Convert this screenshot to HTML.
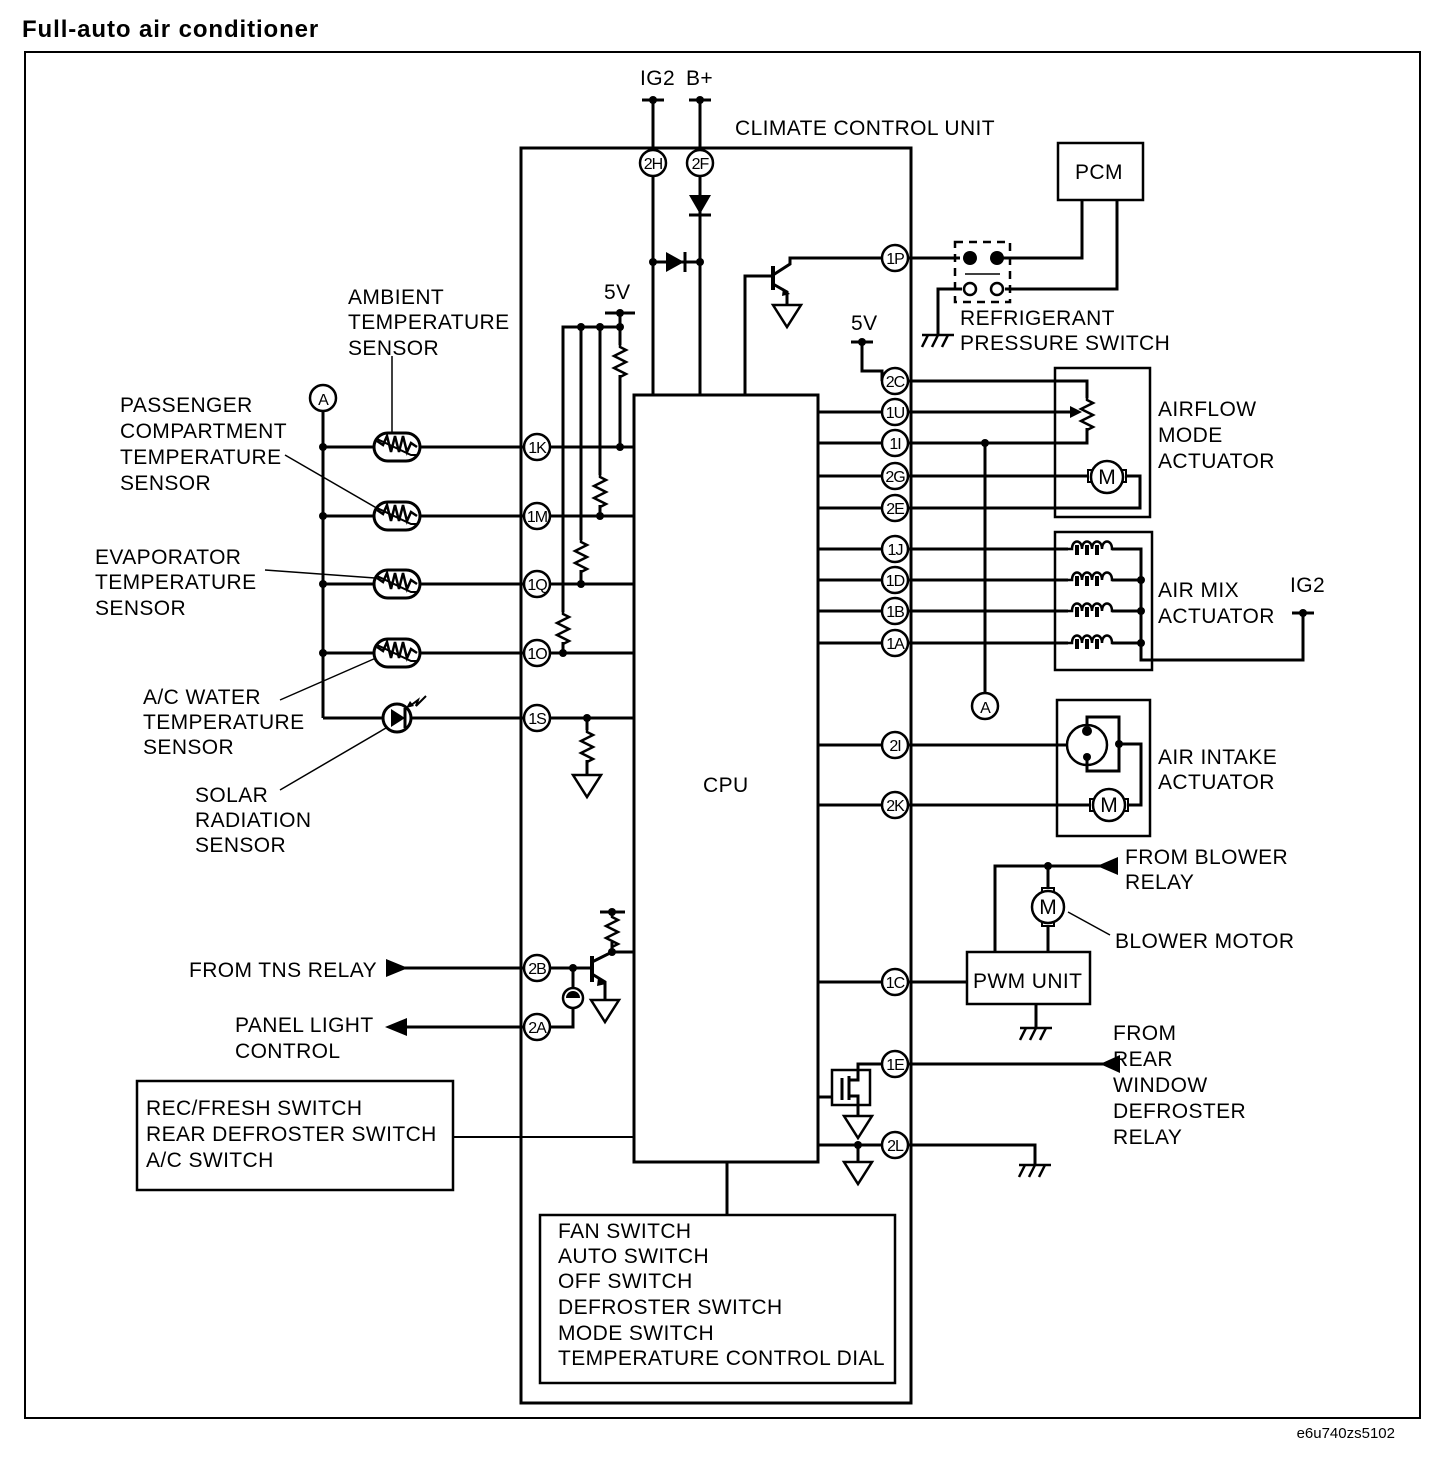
<!DOCTYPE html>
<html><head><meta charset="utf-8"><style>
html,body{margin:0;padding:0;background:#fff;}
svg{display:block;}
text{font-family:"Liberation Sans",Arial,sans-serif;fill:#000;}
.l{font-size:21px;letter-spacing:0.4px;}
.p{font-size:16px;text-anchor:middle;letter-spacing:-1px;}
</style></head><body>
<svg width="1440" height="1462" viewBox="0 0 1440 1462" xmlns="http://www.w3.org/2000/svg">
<defs>
<g id="pin"><circle r="13" fill="#fff" stroke="#000" stroke-width="2.5"/></g>
<g id="th"><rect x="-23" y="-14" width="46" height="28" rx="14" fill="#fff" stroke="#000" stroke-width="3"/><path d="M-20,-6 l6,4 4,-9 4,16 4,-16 4,16 4,-16 4,16 4,-9 6,4" fill="none" stroke="#000" stroke-width="2.5"/><path d="M-20,-8 L14,8 l6,0" fill="none" stroke="#000" stroke-width="2"/></g>
<path id="res" d="M0,0 l0,2 6,3 -12,6 12,6 -12,6 12,6 -6,3 l0,2" fill="none" stroke="#000" stroke-width="2.5"/>
<path id="gnd" d="M-14,0 L14,0 L0,22 Z" fill="#fff" stroke="#000" stroke-width="2.5"/>
<g id="hat" stroke="#000" stroke-width="2.5"><line x1="-16" y1="0" x2="16" y2="0"/><line x1="-10" y1="0" x2="-16" y2="12"/><line x1="0" y1="0" x2="-6" y2="12"/><line x1="10" y1="0" x2="4" y2="12"/></g>
<g id="mot"><circle r="16" fill="#fff" stroke="#000" stroke-width="2.5"/><text y="7" font-size="21" text-anchor="middle">M</text></g>
<g id="coil"><path d="M-22,0 l4,0 c0,-10 10,-10 10,0 c0,-10 10,-10 10,0 c0,-10 10,-10 10,0 c0,-10 10,-10 10,0 l4,0" fill="none" stroke="#000" stroke-width="2.5"/><path d="M-13,-4 v10 M-3,-4 v10 M7,-4 v10 M17,-4 v0" stroke="#000" stroke-width="4"/></g>
</defs>

<text x="22" y="37" font-size="24" font-weight="bold" letter-spacing="0.9">Full-auto air conditioner</text>
<rect x="25" y="52" width="1395" height="1366" fill="none" stroke="#000" stroke-width="2"/>
<text x="1395" y="1438" font-size="15" text-anchor="end">e6u740zs5102</text>

<g stroke="#000" stroke-width="3" fill="none">
<rect x="521" y="148" width="390" height="1255"/>
<rect x="634" y="395" width="184" height="767"/>
<line x1="653" y1="100" x2="653" y2="395"/><line x1="642" y1="100" x2="664" y2="100"/>
<line x1="700" y1="100" x2="700" y2="395"/><line x1="689" y1="100" x2="711" y2="100"/>
<line x1="653" y1="262" x2="700" y2="262"/>
<polyline points="882,258 790,258 790,264 773,275"/>
<line x1="773" y1="266" x2="773" y2="290" stroke-width="4"/>
<polyline points="745,395 745,276 773,276"/>
<polyline points="773,284 787,292 787,305"/>
<polyline points="908,258 960,258"/>
<polyline points="997,258 1082,258 1082,200"/>
<polyline points="1005,289 1117,289 1117,200"/>
<polyline points="962,289 938,289 938,335"/>
<rect x="1058" y="143" width="85" height="57" stroke-width="2.5"/>
<line x1="323" y1="411" x2="323" y2="718"/>
<line x1="323" y1="447" x2="524" y2="447"/>
<line x1="323" y1="516" x2="524" y2="516"/>
<line x1="323" y1="584" x2="524" y2="584"/>
<line x1="323" y1="653" x2="524" y2="653"/>
<polyline points="323,718 524,718"/>
<line x1="550" y1="447" x2="634" y2="447"/>
<line x1="550" y1="516" x2="634" y2="516"/>
<line x1="550" y1="584" x2="634" y2="584"/>
<line x1="550" y1="653" x2="634" y2="653"/>
<line x1="550" y1="718" x2="634" y2="718"/>
<line x1="605" y1="313" x2="635" y2="313"/>
<line x1="620" y1="313" x2="620" y2="345"/>
<line x1="620" y1="375" x2="620" y2="447"/>
<polyline points="620,327 563,327 563,612"/>
<line x1="563" y1="642" x2="563" y2="653"/>
<line x1="600" y1="327" x2="600" y2="475"/><line x1="600" y1="505" x2="600" y2="516"/>
<line x1="581" y1="327" x2="581" y2="540"/><line x1="581" y1="570" x2="581" y2="584"/>
<line x1="587" y1="718" x2="587" y2="730"/><line x1="587" y1="760" x2="587" y2="775"/>
<g stroke-width="1.5">
<line x1="392" y1="356" x2="392" y2="433"/>
<line x1="285" y1="455" x2="380" y2="510"/>
<line x1="265" y1="570" x2="375" y2="578"/>
<line x1="280" y1="700" x2="376" y2="658"/>
<line x1="280" y1="790" x2="386" y2="728"/>
<line x1="1068" y1="912" x2="1110" y2="935"/>
</g>
<line x1="818" y1="412" x2="882" y2="412"/>
<line x1="818" y1="443" x2="882" y2="443"/>
<line x1="818" y1="476" x2="882" y2="476"/>
<line x1="818" y1="508" x2="882" y2="508"/>
<line x1="818" y1="549" x2="882" y2="549"/>
<line x1="818" y1="580" x2="882" y2="580"/>
<line x1="818" y1="611" x2="882" y2="611"/>
<line x1="818" y1="643" x2="882" y2="643"/>
<line x1="818" y1="745" x2="882" y2="745"/>
<line x1="818" y1="805" x2="882" y2="805"/>
<line x1="818" y1="982" x2="882" y2="982"/>
<line x1="818" y1="1145" x2="882" y2="1145"/>
<line x1="851" y1="342" x2="873" y2="342"/>
<polyline points="862,342 862,371 882,371 882,381"/>
<rect x="1055" y="368" width="95" height="149" stroke-width="2.5"/>
<polyline points="908,381 1087,381 1087,398"/>
<polyline points="1087,428 1087,443 908,443"/>
<line x1="908" y1="412" x2="1078" y2="412"/>
<line x1="908" y1="476" x2="1091" y2="476"/>
<polyline points="1123,476 1140,476 1140,508 908,508"/>
<line x1="985" y1="443" x2="985" y2="693"/>
<rect x="1055" y="532" width="97" height="138" stroke-width="2.5"/>
<line x1="908" y1="549" x2="1068" y2="549"/>
<line x1="908" y1="580" x2="1068" y2="580"/>
<line x1="908" y1="611" x2="1068" y2="611"/>
<line x1="908" y1="643" x2="1068" y2="643"/>
<polyline points="1112,549 1141,549 1141,660 1303,660 1303,613"/>
<line x1="1112" y1="580" x2="1141" y2="580"/>
<line x1="1112" y1="611" x2="1141" y2="611"/>
<line x1="1112" y1="643" x2="1141" y2="643"/>
<line x1="1292" y1="613" x2="1314" y2="613"/>
<rect x="1057" y="700" width="93" height="136" stroke-width="2.5"/>
<line x1="908" y1="745" x2="1067" y2="745"/>
<circle cx="1087" cy="745" r="20" stroke-width="2.5"/>
<polyline points="1087,726 1087,717 1119,717 1119,771 1087,771 1087,757"/>
<polyline points="1119,744 1141,744 1141,805 1126,805"/>
<line x1="908" y1="805" x2="1093" y2="805"/>
<polyline points="1115,866 995,866 995,952"/>
<line x1="1048" y1="866" x2="1048" y2="891"/>
<line x1="1048" y1="923" x2="1048" y2="952"/>
<rect x="967" y="952" width="123" height="52" stroke-width="2.5"/>
<line x1="1036" y1="1004" x2="1036" y2="1028"/>
<line x1="908" y1="982" x2="967" y2="982"/>
<line x1="908" y1="1064" x2="1115" y2="1064"/>
<polyline points="882,1064 858,1064 858,1078"/>
<rect x="832" y="1070" width="38" height="35" stroke-width="2.5"/>
<line x1="818" y1="1097" x2="832" y2="1097"/>
<line x1="842" y1="1078" x2="842" y2="1100"/>
<polyline points="849,1076 849,1100"/>
<polyline points="849,1080 858,1080 858,1078"/>
<polyline points="849,1096 858,1096 858,1116"/>
<line x1="858" y1="1145" x2="858" y2="1162"/>
<polyline points="908,1145 1035,1145 1035,1165"/>
<line x1="400" y1="968" x2="524" y2="968"/>
<line x1="550" y1="968" x2="592" y2="968"/>
<line x1="592" y1="956" x2="592" y2="982" stroke-width="4"/>
<polyline points="592,962 612,952 634,952"/>
<line x1="612" y1="952" x2="612" y2="942"/>
<line x1="612" y1="915" x2="612" y2="912"/>
<line x1="600" y1="912" x2="625" y2="912"/>
<polyline points="592,974 605,982 605,1000"/>
<line x1="573" y1="968" x2="573" y2="988"/>
<polyline points="573,1008 573,1027 550,1027"/>
<line x1="400" y1="1027" x2="524" y2="1027"/>
<circle cx="573" cy="998" r="10" stroke-width="2.5"/>
<rect x="137" y="1081" width="316" height="109" stroke-width="2.5"/>
<line x1="453" y1="1137" x2="634" y2="1137" stroke-width="2"/>
<rect x="540" y="1215" width="355" height="168" stroke-width="2.5"/>
<line x1="727" y1="1162" x2="727" y2="1215"/>
</g>

<path d="M689,195 L711,195 L700,214 Z"/><line x1="689" y1="215" x2="711" y2="215" stroke="#000" stroke-width="3"/>
<path d="M666,252 L666,272 L684,262 Z"/><line x1="685" y1="252" x2="685" y2="272" stroke="#000" stroke-width="3"/>
<path d="M783,288 L790,294 L782,296 Z"/>
<path d="M598,978 L606,984 L597,986 Z"/>

<use href="#res" x="620" y="345"/>
<use href="#res" x="600" y="475"/>
<use href="#res" x="581" y="540"/>
<use href="#res" x="563" y="612"/>
<use href="#res" x="587" y="730"/>
<use href="#res" x="612" y="915"/>
<use href="#res" x="1087" y="398"/>
<path d="M1070,406 L1082,412 L1070,418 Z"/>

<use href="#gnd" x="787" y="305"/>
<use href="#gnd" x="587" y="775"/>
<use href="#gnd" x="605" y="1000"/>
<use href="#gnd" x="858" y="1116"/>
<use href="#gnd" x="858" y="1162"/>
<use href="#hat" x="938" y="335"/>
<use href="#hat" x="1036" y="1028"/>
<use href="#hat" x="1035" y="1165"/>

<use href="#th" x="397" y="447"/>
<use href="#th" x="397" y="516"/>
<use href="#th" x="397" y="584"/>
<use href="#th" x="397" y="653"/>
<circle cx="397" cy="718" r="14" fill="#fff" stroke="#000" stroke-width="3"/>
<path d="M391,709 L391,727 L405,718 Z"/><line x1="405" y1="708" x2="405" y2="728" stroke="#000" stroke-width="3"/>
<path d="M410,706 l8,-6 -2,6 10,-10" fill="none" stroke="#000" stroke-width="2"/>
<path d="M406,708 l8,-2 -4,-5 Z"/>

<circle cx="323" cy="398" r="13" fill="#fff" stroke="#000" stroke-width="2.5"/><text x="323" y="405" class="p" font-size="18">A</text>
<circle cx="985" cy="706" r="13" fill="#fff" stroke="#000" stroke-width="2.5"/><text x="985" y="713" class="p" font-size="18">A</text>

<g fill="#000">
<circle cx="653" cy="100" r="4"/><circle cx="700" cy="100" r="4"/>
<circle cx="653" cy="262" r="4"/><circle cx="700" cy="262" r="4"/>
<circle cx="620" cy="313" r="4"/><circle cx="620" cy="327" r="4"/><circle cx="600" cy="327" r="4"/><circle cx="581" cy="327" r="4"/>
<circle cx="620" cy="447" r="4"/><circle cx="600" cy="516" r="4"/><circle cx="581" cy="584" r="4"/><circle cx="563" cy="653" r="4"/><circle cx="587" cy="718" r="4"/>
<circle cx="323" cy="447" r="4"/><circle cx="323" cy="516" r="4"/><circle cx="323" cy="584" r="4"/><circle cx="323" cy="653" r="4"/>
<circle cx="862" cy="342" r="4"/><circle cx="985" cy="443" r="4"/>
<circle cx="1141" cy="580" r="4"/><circle cx="1141" cy="611" r="4"/><circle cx="1141" cy="643" r="4"/>
<circle cx="1303" cy="613" r="4"/>
<circle cx="1119" cy="744" r="4"/><circle cx="1087" cy="731" r="5"/><circle cx="1087" cy="757" r="4"/>
<circle cx="1048" cy="866" r="4"/>
<circle cx="612" cy="912" r="4"/><circle cx="612" cy="952" r="4"/><circle cx="573" cy="968" r="4"/>
<circle cx="858" cy="1145" r="4"/>
<circle cx="970" cy="258" r="7"/><circle cx="997" cy="258" r="7"/>
<path d="M1097,866 L1118,857 L1118,875 Z"/>
<path d="M1100,1064 L1120,1055 L1120,1073 Z"/>
<path d="M408,968 L386,959 L386,977 Z"/>
<path d="M385,1027 L407,1018 L407,1036 Z"/>
<path d="M566,998 a7,7 0 0 1 14,0 Z"/>
</g>
<circle cx="970" cy="289" r="6" fill="#fff" stroke="#000" stroke-width="2.5"/>
<circle cx="997" cy="289" r="6" fill="#fff" stroke="#000" stroke-width="2.5"/>
<rect x="955" y="242" width="55" height="60" fill="none" stroke="#000" stroke-width="2.5" stroke-dasharray="8,6"/>
<line x1="965" y1="274" x2="1000" y2="274" stroke="#000" stroke-width="1.5"/>

<use href="#coil" x="1090" y="549"/>
<use href="#coil" x="1090" y="580"/>
<use href="#coil" x="1090" y="611"/>
<use href="#coil" x="1090" y="643"/>
<rect x="1088" y="470" width="38" height="12" fill="#fff" stroke="#000" stroke-width="2"/><use href="#mot" x="1107" y="477"/>
<rect x="1090" y="799" width="38" height="12" fill="#fff" stroke="#000" stroke-width="2"/><use href="#mot" x="1109" y="805"/>
<rect x="1042" y="888" width="12" height="38" fill="#fff" stroke="#000" stroke-width="2"/><use href="#mot" x="1048" y="907"/>

<g>
<use href="#pin" x="653" y="163"/><text x="653" y="169" class="p">2H</text>
<use href="#pin" x="700" y="163"/><text x="700" y="169" class="p">2F</text>
<use href="#pin" x="537" y="447"/><text x="537" y="453" class="p">1K</text>
<use href="#pin" x="537" y="516"/><text x="537" y="522" class="p">1M</text>
<use href="#pin" x="537" y="584"/><text x="537" y="590" class="p">1Q</text>
<use href="#pin" x="537" y="653"/><text x="537" y="659" class="p">1O</text>
<use href="#pin" x="537" y="718"/><text x="537" y="724" class="p">1S</text>
<use href="#pin" x="537" y="968"/><text x="537" y="974" class="p">2B</text>
<use href="#pin" x="537" y="1027"/><text x="537" y="1033" class="p">2A</text>
<use href="#pin" x="895" y="258"/><text x="895" y="264" class="p">1P</text>
<use href="#pin" x="895" y="381"/><text x="895" y="387" class="p">2C</text>
<use href="#pin" x="895" y="412"/><text x="895" y="418" class="p">1U</text>
<use href="#pin" x="895" y="443"/><text x="895" y="449" class="p">1I</text>
<use href="#pin" x="895" y="476"/><text x="895" y="482" class="p">2G</text>
<use href="#pin" x="895" y="508"/><text x="895" y="514" class="p">2E</text>
<use href="#pin" x="895" y="549"/><text x="895" y="555" class="p">1J</text>
<use href="#pin" x="895" y="580"/><text x="895" y="586" class="p">1D</text>
<use href="#pin" x="895" y="611"/><text x="895" y="617" class="p">1B</text>
<use href="#pin" x="895" y="643"/><text x="895" y="649" class="p">1A</text>
<use href="#pin" x="895" y="745"/><text x="895" y="751" class="p">2I</text>
<use href="#pin" x="895" y="805"/><text x="895" y="811" class="p">2K</text>
<use href="#pin" x="895" y="982"/><text x="895" y="988" class="p">1C</text>
<use href="#pin" x="895" y="1064"/><text x="895" y="1070" class="p">1E</text>
<use href="#pin" x="895" y="1145"/><text x="895" y="1151" class="p">2L</text>
</g>

<g class="l">
<text x="640" y="85">IG2</text><text x="686" y="85">B+</text>
<text x="735" y="135">CLIMATE CONTROL UNIT</text>
<text x="604" y="299">5V</text>
<text x="851" y="330">5V</text>
<text x="1290" y="592">IG2</text>
<text x="1075" y="179">PCM</text>
<text x="960" y="325">REFRIGERANT</text>
<text x="960" y="350">PRESSURE SWITCH</text>
<text x="348" y="304">AMBIENT</text><text x="348" y="329">TEMPERATURE</text><text x="348" y="355">SENSOR</text>
<text x="120" y="412">PASSENGER</text><text x="120" y="438">COMPARTMENT</text><text x="120" y="464">TEMPERATURE</text><text x="120" y="490">SENSOR</text>
<text x="95" y="564">EVAPORATOR</text><text x="95" y="589">TEMPERATURE</text><text x="95" y="615">SENSOR</text>
<text x="143" y="704">A/C WATER</text><text x="143" y="729">TEMPERATURE</text><text x="143" y="754">SENSOR</text>
<text x="195" y="802">SOLAR</text><text x="195" y="827">RADIATION</text><text x="195" y="852">SENSOR</text>
<text x="703" y="792">CPU</text>
<text x="1158" y="416">AIRFLOW</text><text x="1158" y="442">MODE</text><text x="1158" y="468">ACTUATOR</text>
<text x="1158" y="597">AIR MIX</text><text x="1158" y="623">ACTUATOR</text>
<text x="1158" y="764">AIR INTAKE</text><text x="1158" y="789">ACTUATOR</text>
<text x="1125" y="864">FROM BLOWER</text><text x="1125" y="889">RELAY</text>
<text x="1115" y="948">BLOWER MOTOR</text>
<text x="973" y="988">PWM UNIT</text>
<text x="1113" y="1040">FROM</text><text x="1113" y="1066">REAR</text><text x="1113" y="1092">WINDOW</text><text x="1113" y="1118">DEFROSTER</text><text x="1113" y="1144">RELAY</text>
<text x="189" y="977">FROM TNS RELAY</text>
<text x="235" y="1032">PANEL LIGHT</text><text x="235" y="1058">CONTROL</text>
<text x="146" y="1115">REC/FRESH SWITCH</text><text x="146" y="1141">REAR DEFROSTER SWITCH</text><text x="146" y="1167">A/C SWITCH</text>
<text x="558" y="1238">FAN SWITCH</text><text x="558" y="1263">AUTO SWITCH</text><text x="558" y="1288">OFF SWITCH</text><text x="558" y="1314">DEFROSTER SWITCH</text><text x="558" y="1340">MODE SWITCH</text><text x="558" y="1365">TEMPERATURE CONTROL DIAL</text>
</g>
</svg>
</body></html>
